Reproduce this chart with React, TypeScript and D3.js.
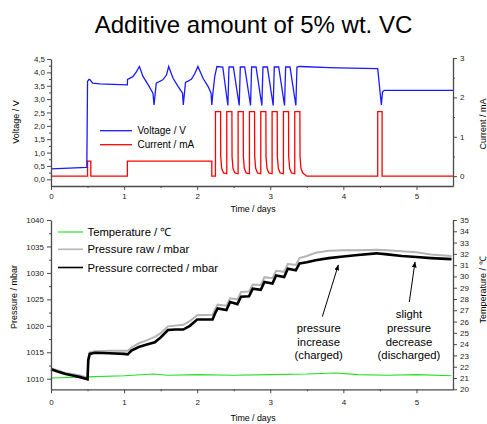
import React, { useEffect, useRef } from "react";
import * as d3 from "d3";

// ---------- data ----------
const TITLE = "Additive amount of 5% wt. VC";

const dayTicks = [0, 1, 2, 3, 4, 5];
const dayMinorTicks = [0.5, 1.5, 2.5, 3.5, 4.5];
const voltageTicks = [0, 0.5, 1, 1.5, 2, 2.5, 3, 3.5, 4, 4.5];
const voltageMinorTicks = [0.25, 0.75, 1.25, 1.75, 2.25, 2.75, 3.25, 3.75, 4.25];
const currentTicks = [0, 1, 2, 3];
const currentMinorTicks = [0.5, 1.5, 2.5];
const pressureTicks = [1010, 1015, 1020, 1025, 1030, 1035, 1040];
const pressureMinorTicks = [1012.5, 1017.5, 1022.5, 1027.5, 1032.5, 1037.5];
const temperatureTicks = [20, 21, 22, 23, 24, 25, 26, 27, 28, 29, 30, 31, 32, 33, 34, 35];

// voltage / V
const voltageDays = [
  0.0, 0.25, 0.49, 0.5, 0.52, 0.535, 0.57, 0.67, 0.85, 1.045,
  1.047, 1.12, 1.17, 1.21, 1.26, 1.33, 1.395, 1.41,
  1.44, 1.53, 1.58, 1.61, 1.67, 1.74, 1.8, 1.81,
  1.84, 1.92, 1.965, 2.01, 2.08, 2.15, 2.19, 2.2,
  2.21, 2.24, 2.27, 2.35, 2.42,
  2.435, 2.495, 2.575,
  2.59, 2.65, 2.73,
  2.745, 2.805, 2.885,
  2.9, 2.96, 3.04,
  3.055, 3.115, 3.195,
  3.21, 3.27, 3.35,
  3.365, 3.4, 3.5, 3.8, 4.1, 4.47, 4.52, 4.535, 4.56, 5.5,
];
const voltageValues = [
  0.39, 0.42, 0.45, 3.66, 3.74, 3.72, 3.6, 3.57, 3.55, 3.53,
  3.74, 3.84, 4.03, 4.22, 3.84, 3.53, 3.22, 2.78,
  3.6, 3.72, 3.9, 4.22, 3.78, 3.47, 3.22, 2.78,
  3.62, 3.74, 3.94, 4.22, 3.78, 3.47, 3.22, 2.78,
  3.09, 3.84, 4.22, 4.2, 2.76,
  4.2, 4.2, 2.76,
  4.2, 4.2, 2.76,
  4.2, 4.2, 2.76,
  4.2, 4.2, 2.76,
  4.2, 4.2, 2.76,
  4.2, 4.2, 2.76,
  4.2, 4.22, 4.21, 4.18, 4.16, 4.14, 2.78, 3.26, 3.33, 3.33,
];

// current / mA
const currentDays = [
  0, 0.5, 0.5, 0.545, 0.545, 1.045, 1.045, 2.2, 2.2, 2.25,
  2.25, 2.32, 2.322, 2.335, 2.36, 2.405,
  2.405, 2.475, 2.477, 2.49, 2.515, 2.56,
  2.56, 2.63, 2.632, 2.645, 2.67, 2.715,
  2.715, 2.785, 2.787, 2.8, 2.825, 2.87,
  2.87, 2.94, 2.942, 2.955, 2.98, 3.025,
  3.025, 3.095, 3.097, 3.11, 3.135, 3.18,
  3.18, 3.25, 3.252, 3.265, 3.29, 3.335,
  3.335, 3.405, 3.407, 3.42, 3.445, 3.5,
  4.47, 4.47, 4.53, 4.53, 5.5,
];
const currentValues = [
  0, 0, 0.38, 0.38, 0, 0, 0.38, 0.38, 0, 0,
  1.64, 1.64, 0.5, 0.2, 0.08, 0.06,
  1.64, 1.64, 0.5, 0.2, 0.08, 0.06,
  1.64, 1.64, 0.5, 0.2, 0.08, 0.06,
  1.64, 1.64, 0.5, 0.2, 0.08, 0.06,
  1.64, 1.64, 0.5, 0.2, 0.08, 0.06,
  1.64, 1.64, 0.5, 0.2, 0.08, 0.06,
  1.64, 1.64, 0.5, 0.2, 0.08, 0.06,
  1.64, 1.64, 0.5, 0.2, 0.08, 0,
  0, 1.64, 1.64, 0, 0,
];

// pressure corrected / mbar
const correctedDays = [
  0, 0.1, 0.2, 0.3, 0.4, 0.5, 0.51, 0.53, 0.6, 0.8, 1.0, 1.05,
  1.1, 1.2, 1.3, 1.42, 1.5, 1.6, 1.7, 1.81, 1.9, 2.0, 2.1, 2.21,
  2.25, 2.28, 2.4, 2.45, 2.55, 2.6, 2.71, 2.76, 2.87, 2.92, 3.03, 3.08,
  3.19, 3.24, 3.35, 3.4, 3.5, 3.62, 3.8, 4.0, 4.2, 4.45, 4.6, 4.8, 5.0, 5.2, 5.48,
];
const correctedValues = [
  1011.8, 1011.3, 1010.9, 1010.6, 1010.3, 1009.9, 1013.5, 1014.7, 1014.9, 1014.8, 1014.7, 1014.6,
  1015.3, 1016.0, 1016.4, 1016.9, 1017.8, 1019.2, 1019.3, 1019.3, 1020.0, 1021.2, 1021.2, 1021.2,
  1022.5, 1023.3, 1023.0, 1024.5, 1024.1, 1025.5, 1025.6, 1027.0, 1026.8, 1028.3, 1028.0, 1029.5,
  1029.2, 1030.8, 1030.5, 1031.8, 1032.0, 1032.4, 1032.8, 1033.1, 1033.4, 1033.7, 1033.5, 1033.2, 1033.0, 1032.8, 1032.6,
];

// pressure raw / mbar
const rawDays = [
  0, 0.2, 0.4, 0.5, 0.51, 0.53, 0.6, 0.8, 1.05,
  1.1, 1.2, 1.3, 1.42, 1.5, 1.6, 1.81, 1.9, 2.0, 2.21,
  2.25, 2.28, 2.4, 2.45, 2.55, 2.6, 2.71, 2.76, 2.87, 2.92, 3.03, 3.08,
  3.19, 3.24, 3.35, 3.4, 3.5, 3.62, 3.8, 4.0, 4.2, 4.45, 4.6, 4.8, 5.0, 5.2, 5.48,
];
const rawValues = [
  1012.0, 1011.1, 1010.6, 1010.2, 1013.8, 1015.0, 1015.2, 1015.3, 1015.3,
  1015.9, 1016.7, 1017.2, 1017.9, 1018.6, 1019.9, 1020.2, 1020.9, 1022.0, 1022.1,
  1023.3, 1024.0, 1023.8, 1025.2, 1025.0, 1026.4, 1026.5, 1027.8, 1027.7, 1029.2, 1029.0, 1030.4,
  1030.2, 1031.7, 1031.5, 1032.8, 1033.2, 1033.8, 1034.2, 1034.3, 1034.3, 1034.4, 1034.3, 1034.1, 1033.9, 1033.5, 1033.2,
];

// temperature / °C
const temperatureDays = [0, 0.5, 1.0, 1.4, 1.6, 2.0, 2.5, 3.0, 3.5, 3.9, 4.2, 4.6, 5.0, 5.48];
const temperatureValues = [21.0, 21.1, 21.2, 21.35, 21.25, 21.3, 21.25, 21.3, 21.35, 21.45, 21.3, 21.25, 21.3, 21.2];

const FONT = "'Liberation Sans', Arial, Helvetica, sans-serif";
const AXIS = "#4a4a4a";
const comma = (v) => d3.format(".1f")(v).replace(".", ",");

function styleAxis(g, size = 8) {
  g.attr("font-family", FONT).attr("font-size", size);
  g.selectAll("path.domain").attr("stroke", AXIS).attr("stroke-width", 1.3);
  g.selectAll(".tick line").attr("stroke", AXIS).attr("stroke-width", 1);
  g.selectAll(".tick text").attr("fill", "#222");
}

function addAxis(svg, axisFn, scale, major, minor, transform, fmt, pad = 3) {
  const g = svg.append("g").attr("transform", transform);
  g.call(axisFn(scale).tickValues(major).tickSize(4).tickSizeOuter(0).tickPadding(pad).tickFormat(fmt));
  styleAxis(g);
  if (minor && minor.length) {
    const m = svg.append("g").attr("transform", transform);
    m.call(axisFn(scale).tickValues(minor).tickSize(2).tickSizeOuter(0).tickFormat(() => ""));
    m.select("path.domain").remove();
    m.selectAll(".tick line").attr("stroke", AXIS);
  }
}

function Chart() {
  const ref = useRef(null);

  useEffect(() => {
    const svg = d3.select(ref.current);
    svg.selectAll("*").remove();

    svg.append("text")
      .attr("x", 253.5).attr("y", 32.5)
      .attr("text-anchor", "middle")
      .attr("font-family", FONT).attr("font-size", 24)
      .text(TITLE);

    const x = d3.scaleLinear().domain([0, 5.5]).range([51, 453]);

    // ----- top panel -----
    const yV = d3.scaleLinear().domain([-0.25, 4.5]).range([186, 59]);
    const yC = d3.scaleLinear().domain([-0.25, 3]).range([186, 58]);

    const currentLine = d3.line<number>().x((_, i) => x(currentDays[i])).y((d) => yC(d));
    const voltageLine = d3.line<number>().x((_, i) => x(voltageDays[i])).y((d) => yV(d));

    svg.append("path").attr("d", currentLine(currentValues))
      .attr("fill", "none").attr("stroke", "#ff0000").attr("stroke-width", 1.3);
    svg.append("path").attr("d", voltageLine(voltageValues))
      .attr("fill", "none").attr("stroke", "#1a1aff").attr("stroke-width", 1.3);

    addAxis(svg, d3.axisBottom, x, dayTicks, dayMinorTicks, "translate(0,186)", d3.format("d"), 3);
    addAxis(svg, d3.axisLeft, yV, voltageTicks, voltageMinorTicks, "translate(51,0)", comma, 2);
    addAxis(svg, d3.axisRight, yC, currentTicks, currentMinorTicks, "translate(453,0)", d3.format("d"), 3);

    svg.append("text").attr("transform", "translate(19,122) rotate(-90)")
      .attr("text-anchor", "middle").attr("font-family", FONT).attr("font-size", 9)
      .text("Voltage / V");
    svg.append("text").attr("transform", "translate(486,124) rotate(-90)")
      .attr("text-anchor", "middle").attr("font-family", FONT).attr("font-size", 9)
      .text("Current / mA");
    svg.append("text").attr("x", 253).attr("y", 212)
      .attr("text-anchor", "middle").attr("font-family", FONT).attr("font-size", 8.8)
      .text("Time / days");

    const topLegend = [
      { label: "Voltage / V", color: "#1a1aff", y: 130.7 },
      { label: "Current / mA", color: "#ff0000", y: 144.7 },
    ];
    topLegend.forEach((d) => {
      svg.append("line").attr("x1", 100).attr("x2", 132).attr("y1", d.y).attr("y2", d.y)
        .attr("stroke", d.color).attr("stroke-width", 1.3);
      svg.append("text").attr("x", 137.5).attr("y", d.y + 3.6)
        .attr("font-family", FONT).attr("font-size", 10).text(d.label);
    });

    // ----- bottom panel -----
    const yP = d3.scaleLinear().domain([1008, 1040]).range([389.3, 220]);
    const yT = d3.scaleLinear().domain([20, 35]).range([389.3, 220]);

    const tempLine = d3.line<number>().x((_, i) => x(temperatureDays[i])).y((d) => yT(d));
    const rawLine = d3.line<number>().x((_, i) => x(rawDays[i])).y((d) => yP(d));
    const corrLine = d3.line<number>().x((_, i) => x(correctedDays[i])).y((d) => yP(d));

    svg.append("path").attr("d", tempLine(temperatureValues))
      .attr("fill", "none").attr("stroke", "#22e022").attr("stroke-width", 1.1);
    svg.append("path").attr("d", rawLine(rawValues))
      .attr("fill", "none").attr("stroke", "#b4b4b4").attr("stroke-width", 2);
    svg.append("path").attr("d", corrLine(correctedValues))
      .attr("fill", "none").attr("stroke", "#000").attr("stroke-width", 2.6);

    addAxis(svg, d3.axisBottom, x, dayTicks, dayMinorTicks, "translate(0,389.3)", d3.format("d"), 6);
    addAxis(svg, d3.axisLeft, yP, pressureTicks, pressureMinorTicks, "translate(51,0)", d3.format("d"), 3);
    addAxis(svg, d3.axisRight, yT, temperatureTicks, [], "translate(453,0)", d3.format("d"), 3);

    svg.append("text").attr("transform", "translate(17,297) rotate(-90)")
      .attr("text-anchor", "middle").attr("font-family", FONT).attr("font-size", 9)
      .text("Pressure / mbar");
    svg.append("text").attr("transform", "translate(486,290) rotate(-90)")
      .attr("text-anchor", "middle").attr("font-family", FONT).attr("font-size", 9)
      .text("Temperature / ℃");
    svg.append("text").attr("x", 253).attr("y", 421)
      .attr("text-anchor", "middle").attr("font-family", FONT).attr("font-size", 8.8)
      .text("Time / days");

    const bottomLegend = [
      { label: "Temperature / ℃", color: "#22e022", w: 1.1, y: 232 },
      { label: "Pressure raw / mbar", color: "#b4b4b4", w: 1.6, y: 249.3 },
      { label: "Pressure corrected / mbar", color: "#000", w: 1.6, y: 267.5 },
    ];
    bottomLegend.forEach((d) => {
      svg.append("line").attr("x1", 58).attr("x2", 83).attr("y1", d.y).attr("y2", d.y)
        .attr("stroke", d.color).attr("stroke-width", d.w);
      svg.append("text").attr("x", 87.5).attr("y", d.y + 4)
        .attr("font-family", FONT).attr("font-size", 11.3).text(d.label);
    });

    // annotations
    svg.append("defs").append("marker")
      .attr("id", "arrow").attr("viewBox", "0 0 10 10")
      .attr("refX", 9).attr("refY", 5)
      .attr("markerWidth", 6).attr("markerHeight", 6)
      .attr("markerUnits", "userSpaceOnUse")
      .attr("orient", "auto")
      .append("path").attr("d", "M0,1 L10,5 L0,9 Z").attr("fill", "#000");

    const notes = [
      { lines: ["pressure", "increase", "(charged)"], cx: 318.7, top: 332, from: [322.3, 316.7], to: [338.3, 265] },
      { lines: ["slight", "pressure", "decrease", "(discharged)"], cx: 409, top: 318.3, from: [409.3, 302], to: [415, 262] },
    ];
    notes.forEach((n) => {
      n.lines.forEach((l, i) => {
        svg.append("text").attr("x", n.cx).attr("y", n.top + i * 13.7)
          .attr("text-anchor", "middle").attr("font-family", FONT).attr("font-size", 11.3)
          .text(l);
      });
      svg.append("line")
        .attr("x1", n.from[0]).attr("y1", n.from[1]).attr("x2", n.to[0]).attr("y2", n.to[1])
        .attr("stroke", "#000").attr("stroke-width", 1).attr("marker-end", "url(#arrow)");
    });
  }, []);

  return <svg ref={ref} width={487} height={424} style={{ display: "block" }} />;
}

export default function App() {
  return (
    <div style={{ position: "absolute", left: 0, top: 0, width: 487, height: 424, background: "#fff" }}>
      <Chart />
    </div>
  );
}
